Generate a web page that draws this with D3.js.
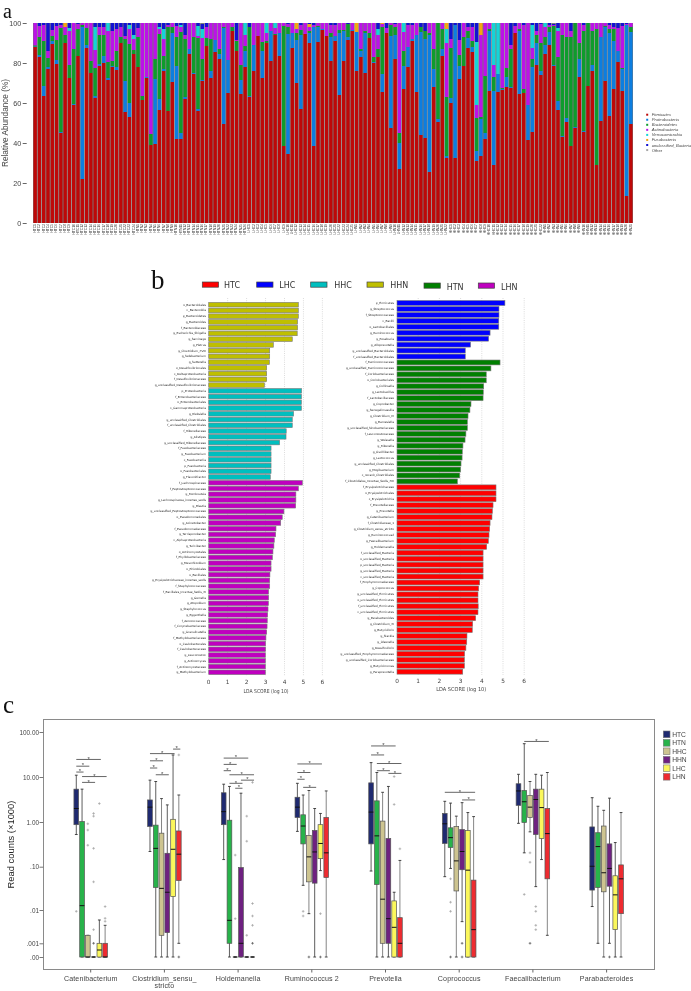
<!DOCTYPE html>
<html><head><meta charset="utf-8">
<script src="https://cdn.jsdelivr.net/npm/d3@7"></script>
<style>html,body{margin:0;padding:0;background:#fff}svg{display:block;filter:blur(.35px)}text{font-family:"Liberation Sans",Arial,sans-serif}</style>
</head><body><svg id="c" width="691" height="991" viewBox="0 0 691 991"></svg>
<script>
// ---------- panel a: relative abundance per sample ----------
const phylumNames=["Firmicutes","Proteobacteria","Bacteroidetes","Actinobacteria","Verrucomicrobia","Fusobacteria","unclassified_Bacteria","Other"];
const phylumColors=["#BE0808","#0C7EE0","#0E9C2C","#BC12E8","#14D4D8","#F5A412","#1212D2","#A8A8A8"];
const sampleGroups=[["HTC",24],["HTN",26],["LHC",25],["LHN",22],["HHC",22],["HHN",21]];
const firmicutes=[88,83,63.5,77,89.5,79.5,45,90,72.5,59,83.5,22,87.5,75,62.5,78.5,80,71.5,78,76.5,90,55.5,53,84.5,78,61.5,72.5,39,39.5,56.5,76,56,70.5,42,42,62,84.5,74.5,56,71,88.5,72.5,85.5,82,49.5,65,96,86,64.5,78,63,76,93.5,72.5,90,81,94,83.5,38.5,34.5,87.5,70,57,94.5,90,38.5,90.5,96.5,93.5,81,91,64,81,91.5,96,76,83,75,92.5,80,83,65.5,95,47.5,82,27,67,78,91,65.5,44,42.5,25.5,68,50.5,83.5,32.5,60,32.5,72,78.5,87.5,85.5,31,33.5,42,66,29,65.5,66.5,68,67.5,95,64.5,65,41.5,45.5,79,74,84.5,89,78.5,56.5,43,50.5,38.5,47.5,73,45.5,68.5,76,29,51,71,53.5,67,80.5,66,13.5,49.5];
const proteobacteria=[.3,1,5,1,1.5,2,.5,0,0,.5,0,76,1.5,0,1,1,3.5,1,.5,1.5,0,15.5,7,0,0,0,.5,0,32.5,5.5,1,0,24.5,36.5,3,1,2.5,.5,1,.5,0,3.5,6,2.5,48,16.5,0,0,7,8,.5,13,0,13.5,0,15,0,11.5,0,60,7.5,21.5,37,0,5,59.5,7.5,.5,0,12,2.5,31,15,1.5,.5,19.5,3,20,0,.5,0,9,0,46,12,13,11.5,10,1,28.5,51.5,49.5,68.5,9,1.5,3.5,1,2.5,66.5,6.5,0,5,2.5,5,18.5,3,30,37,9,.5,5,.5,0,31.5,0,17.5,32.5,11,2,4.5,6.5,.5,4.5,.5,2,0,.5,9,.5,0,3,0,42,27,41.5,24,5.5,11,85.5,46];
const bacteroidetes=[.5,9,22.5,4.5,2.5,10,52,4,6.5,27.5,13.5,1,8.5,6,14,14.5,10.5,8,2.5,8,3,21,29.5,2,15,2,0,5.5,10,32.5,6.5,42,3,14.5,50.5,29,0,18,35.5,10.5,4,16,0,2.5,.5,0,2,5,7.5,2.5,34.5,0,0,4.5,1,0,.5,0,60,3.5,0,3.5,2.5,0,1,0,.5,0,0,2,0,1.5,.5,6.5,0,0,1,1,2.5,2.5,4,23.5,0,5.5,4,5,7.5,0,0,0,2.5,4,1,10,48,10,29.5,25,0,5.5,14.5,3.5,3,16.5,1,28.5,1,7,0,.5,4.5,19,0,1,2,0,4,4,14,4,2.5,19.5,22,50.5,40.5,54.5,52,8,50,31.5,17,68,0,.5,2,6,0,.5,0,2.5];
const actinobacteria=[11.2,5.5,8,3.5,3,7,1.5,4,17,13,2.5,1,2.5,19,9,4,4,15.5,15,11,5,1.5,7.5,5.5,4.5,36.5,27,55.5,18,2.5,8.5,1,2,5.5,2.5,2,13,7,1,10.5,5.5,8,8.5,13,2,18.5,2,.5,21,5.5,0,11,6.5,9.5,4,4,3,5,1.5,1.5,5,2,2.5,5.5,2,1,1.5,3,6.5,4,5.5,3.5,3.5,0,3.5,0,13,4,5,17,7,1.5,2.5,1,1.5,55,9.5,11,7,6,0,0,5,13,0,3,27,4.5,0,7.5,7,2,7,6.5,41,26.5,3,6,0,32.5,22.5,2,3.5,3,32,41,5.5,2,9.5,5,1,.5,13,6,7,3,0,10,3,0,4,3,7,1.5,2,1,11.5,21,.5,2];
// the two rare phyla: [sample number, percent]; every other sample has none
const verrucomicrobiaSamples=[[9,1.5],[15,11.5],[18,4],[23,2],[24,2],[30,1],[31,5],[35,1],[39,5],[40,4.5],[50,6],[55,5],[57,2.5],[81,3],[87,4.5],[97,7],[104,31.5],[108,21],[109,25.5],[117,11.5],[120,2],[123,1.5]];
const fusobacteriaSamples=[[8,2],[62,3],[65,1.5],[76,4.5],[82,.5],[97,3],[105,6]];
const unclassifiedBacteria=[0,1.5,1,14,3.5,1.5,1,0,2.5,0,.5,0,0,0,2,2,2,0,4,3,2,6.5,1,6,2.5,0,0,0,0,2,3,1,0,1.5,1,6,0,0,1.5,2.5,2,0,0,0,0,0,0,8.5,0,0,2,0,0,0,0,0,0,0,0,.5,0,0,1,0,.5,1,0,0,0,1,1,0,0,.5,0,0,0,0,0,0,3,0,2.5,0,.5,0,0,1,1,0,2,4,0,0,0,0,0,8,1,8.5,0,2,2,9.5,0,0,0,0,0,0,0,11,1.5,0,1,0,1,4,.5,0,1,.5,2.5,0,0,4,0,0,1,0,0,0,0,0,1,2,2.5,1.5,.5,0];
const abundanceTicks=[0,20,40,60,80,100];

// ---------- panel b: LDA scores ----------
const groupNamesB=["HTC","LHC","HHC","HHN","HTN","LHN"];
const groupColorsB=["#FF0000","#0000FF","#00BFBF","#BFBF00","#008000","#BF00BF"];
const hhnTaxa=["o_Bacteroidales","c_Bacteroidia","p_Bacteroidetes","g_Bacteroides","f_Bacteroidaceae","g_Escherichia_Shigella","g_Sarcinage","g_Pietrus","g_Clostridium_XVIII","g_Selebacterium","g_Sutterella","o_Desulfovibrionales","c_Deltaproteobacteria","f_Desulfovibrionaceae","g_unclassified_Desulfovibrionaceae"];
const hhnScores=[4.73,4.73,4.73,4.69,4.69,4.67,4.41,3.41,3.22,3.22,3.2,3.06,3.06,3.06,2.94];
const hhcTaxa=["p_Proteobacteria","f_Enterobacteriaceae","o_Enterobacteriales","c_Gammaproteobacteria","g_Klebsiella","g_unclassified_Clostridiales","f_unclassified_Clostridiales","f_Rikenellaceae","g_Alistipes","g_unclassified_Rikenellaceae","f_Fusobacteriaceae","g_Fusobacterium","c_Fusobacteriia","p_Fusobacteria","o_Fusobacteriales","g_Flavonifractor"];
const hhcScores=[4.9,4.89,4.89,4.89,4.48,4.41,4.41,4.09,4.08,3.74,3.29,3.29,3.29,3.29,3.29,3.25];
const lhnTaxa=["f_Lachnospiraceae","f_Peptostreptococcaceae","g_Romboutsia","g_Lachnospiracea_incertae_sedis","g_Blautia","g_unclassified_Peptostreptococcaceae","o_Pseudomonadales","g_Acinetobacter","f_Pseudomonadaceae","g_Terrisporobacter","c_Alphaproteobacteria","g_Turicibacter","o_Actinomycetales","f_Phyllobacteriaceae","g_Mesorhizobium","o_Rhizobiales","o_Bacillales","g_Erysipelotrichaceae_incertae_sedis","f_Staphylococcaceae","f_Bacillales_Incertae_Sedis_XI","g_Gemella","g_Atopobium","g_Staphylococcus","g_Eggerthella","f_Aerococcaceae","f_Corynebacteriaceae","g_Granulicatella","f_Methylobacteriaceae","o_Caulobacterales","f_Caulobacteraceae","g_Leuconostoc","g_Actinomyces","f_Actinomycetaceae","g_Methylobacterium"];
const lhnScores=[4.94,4.73,4.6,4.6,4.59,3.97,3.88,3.8,3.55,3.53,3.46,3.44,3.39,3.36,3.29,3.29,3.23,3.22,3.22,3.16,3.16,3.15,3.13,3.11,3.09,3.08,3.06,3.02,3,3,2.99,2.99,2.99,2.99];
const lhcTaxa=["p_Firmicutes","g_Streptococcus","f_Streptococcaceae","c_Bacilli","o_Lactobacillales","g_Ruminococcus","g_Roseburia","g_Alloprevotella","g_unclassified_Bacteroidales","f_unclassified_Bacteroidales"];
const lhcScores=[5.09,4.81,4.81,4.8,4.8,4.39,4.32,3.47,3.22,3.22];
const htnTaxa=["f_Ruminococcaceae","g_unclassified_Ruminococcaceae","f_Coriobacteriaceae","o_Coriobacteriales","g_Collinsella","g_Lactobacillus","f_Lactobacillaceae","g_Coprobacter","g_Senegalimassilia","g_Clostridium_IV","g_Barnesiella","g_unclassified_Sinobacteriaceae","f_Leuconostocaceae","g_Weissella","g_Rikenella","g_Oscillibacter","g_Lactococcus","g_unclassified_Clostridiales","g_Mogibacterium","c_norank_Clostridiales","f_Clostridiales_Incertae_Sedis_XIII"];
const htnScores=[4.86,4.43,4.21,4.21,4.09,4.07,4.06,3.49,3.44,3.35,3.32,3.32,3.25,3.21,3.11,3.08,3.07,3.02,3,2.96,2.85];
const htcTaxa=["f_Erysipelotrichaceae","o_Erysipelotrichales","c_Erysipelotrichia","f_Prevotellaceae","g_Prevotella","g_Catenibacterium","f_Clostridiaceae_1","g_Clostridium_sensu_stricto","g_Ruminococcus2","g_Faecalibacterium","g_Holdemanella","f_unclassified_Bacteria","o_unclassified_Bacteria","p_unclassified_Bacteria","g_unclassified_Bacteria","c_unclassified_Bacteria","f_Porphyromonadaceae","g_Coprococcus","g_unclassified_Firmicutes","o_unclassified_Firmicutes","f_unclassified_Firmicutes","c_unclassified_Firmicutes","g_Parabacteroides","g_Clostridium_XI","g_Butyrivibrio","g_Slackia","g_Olsenella","g_Desulfovibrio","g_unclassified_Porphyromonadaceae","g_unclassified_Coriobacteriaceae","g_Butyricimonas","g_Paraprevotella"];
const htcScores=[4.67,4.67,4.67,4.53,4.5,4.48,4.39,4.37,4.34,4.31,4.23,4.06,4.06,4.06,4.06,4.06,3.9,3.85,3.82,3.82,3.83,3.82,3.71,3.57,3.55,3.3,3.29,3.25,3.19,3.18,3.18,3.1];
const ldaTicks=[0,1,2,3,4,5,6];

// ---------- panel c: read counts, in log10(read counts x1000); -4 marks the ".00" line ----------
const genera=["Catenibacterium","Clostridium_sensu_ stricto","Holdemanella","Ruminococcus 2","Prevotella","Coprococcus","Faecalibacterium","Parabacteroides"];
const boxGroups=["HTC","HTN","HHC","HHN","LHC","LHN"];
const boxColors=["#1F2A70","#27B34A","#CDC490","#6E2180","#FBF75C","#EE2B30"];
// each row, one per genus: whisker top, q3, median, q1, whisker bottom
const boxHTC=[[1.04,.73,.3,-.06,-.28],[.93,.49,.33,-.1,-.66],[.84,.65,.23,-.06,-.84],[.86,.55,.33,.1,-.21],[1.32,.87,.22,-.49,-1.1],[.46,.19,-.04,-.48,-1.23],[1.06,.85,.69,.37,-.03],[.54,-.11,-.99,-1.54,-1.92]];
const boxHTN=[[.73,.01,-1.9,-4,-4],[.9,-.07,-.59,-1.48,-4],[.79,.04,-2.31,-3,-4],[.6,.16,-.09,-.49,-1.43],[1.1,.47,-.31,-1.41,-4],[.42,-.13,-.35,-.57,-1.04],[1.74,.7,.45,-.01,-.69],[.35,-.24,-.55,-1.48,-3]];
const boxHHC=[[-2.76,-2.76,-4,-4,-4],[.52,-.25,-1.5,-2.76,-4],[-4,-4,-4,-4,-4],[.7,-.3,-.78,-1.35,-2.11],[.66,.02,-1.75,-3,-4],[.13,-.1,-.87,-1.56,-4],[.9,.59,.33,.1,-.22],[.26,-.09,-1.14,-1.58,-4]];
const boxHHN=[[-4,-4,-4,-4,-4],[.38,-.7,-1.59,-2.68,-4],[.64,-1.02,-3,-4,-4],[.3,-.19,-.67,-1.38,-4],[.79,-.37,-2.26,-3,-4],[.43,-.17,-.66,-1.07,-2.35],[1.06,.73,.5,-.28,-1.46],[.53,-.49,-1.04,-1.45,-3]];
const boxLHC=[[-2.3,-3,-3.49,-4,-4],[1.49,.06,-.61,-1.69,-4],[-4,-4,-4,-4,-4],[.19,-.06,-.48,-.82,-1.09],[-1.59,-1.79,-2.52,-4,-4],[.21,-.19,-1.08,-4,-4],[1.04,.73,.32,-.37,-.84],[-.46,-1.21,-1.65,-2.59,-4]];
const boxLHN=[[-2.46,-3,-4,-4,-4],[.6,-.2,-.72,-1.32,-3],[-4,-4,-4,-4,-4],[.69,.1,-.69,-1.25,-4],[-.86,-2.23,-3,-4,-4],[.12,-1.31,-2.59,-4,-4],[1.1,.3,-.26,-1.28,-2.76],[.21,-.96,-1.28,-2.11,-4]];
// [genus index, group index, value]
const outlierPoints=[[0,0,-2.04],[0,2,-.04],[0,2,-.18],[0,2,-.52],[0,3,.19],[0,3,.13],[0,3,-.59],[0,3,-1.35],[0,3,-2.59],[0,3,-3],[0,4,.41],[0,5,-1.92],[0,5,-2.25],[0,5,-2.34],[1,5,-4],[1,5,1.49],[2,2,-.74],[2,2,-2.26],[2,4,.13],[2,4,-.43],[2,4,-2.76],[2,5,.88],[2,5,-1.85],[2,5,-2.18],[2,5,-2.46],[2,5,-3],[3,1,-2.04],[3,1,-2.18],[3,2,-4],[3,4,-2.11],[3,4,-4],[4,4,1.01],[4,4,.39],[4,5,-.6],[5,1,-1.28],[5,1,-1.82],[5,1,-2.04],[5,1,-4],[5,3,-3],[5,3,-4],[6,1,-1.64],[6,2,-.69],[6,2,-.9],[6,2,-3],[6,3,-1.92],[6,3,-2.04],[6,3,-2.46],[6,3,-2.59],[7,3,-4]];
// [genus index, from group, to group, level]
const signifBars=[[0,0,4,1.39],[0,0,2,1.24],[0,0,1,1.11],[0,1,3,.88],[0,1,5,1.01],[1,0,4,1.52],[1,0,2,1.36],[1,0,1,1.2],[1,4,5,1.62],[1,1,3,1.05],[2,0,4,1.42],[2,0,2,1.28],[2,0,1,1.14],[2,1,5,1.05],[2,1,3,.86],[2,2,3,.75],[2,3,5,.93],[3,0,4,1.29],[3,0,2,1.1],[3,0,1,.95],[3,1,3,.77],[4,0,4,1.69],[4,0,2,1.49],[4,1,5,1.3],[4,1,3,1.14],[4,3,5,1.08],[5,0,5,.66],[5,3,5,.49],[6,1,5,1.79]];
const readTickValues=[-4,-3,-2,-1,0,1,2];
const readTickLabels=[".00",".001",".01",".10","1.00","10.00","100.00"];

const lens=[firmicutes,proteobacteria,bacteroidetes,actinobacteria,unclassifiedBacteria].map(a=>a.length);
if(lens.some(l=>l!==140)) throw new Error("LENGTHS "+lens.join(","));

const svg=d3.select("#c");
svg.append("rect").attr("width",691).attr("height",991).attr("fill","#fff");
const serif='"Liberation Serif","Times New Roman",serif', dejavu='"DejaVu Sans",sans-serif';
[["a",3,17.8,20],["b",151,289,27],["c",3,713,25]].forEach(d=>svg.append("text").attr("x",d[1]).attr("y",d[2]).attr("font-size",d[3]).style("font-family",serif).attr("fill","#111").text(d[0]));

// ===== panel a
const pa=svg.append("g");
const sampleIds=sampleGroups.flatMap(([g,n])=>d3.range(1,n+1).map(i=>g+i));
const vMap=new Map(verrucomicrobiaSamples), fMap=new Map(fusobacteriaSamples);
const rowsA=sampleIds.map((id,i)=>({id,
 Firmicutes:firmicutes[i],Proteobacteria:proteobacteria[i],Bacteroidetes:bacteroidetes[i],Actinobacteria:actinobacteria[i],
 Verrucomicrobia:vMap.get(i+1)||0,Fusobacteria:fMap.get(i+1)||0,unclassified_Bacteria:unclassifiedBacteria[i]}));
const xA=d3.scaleBand().domain(sampleIds).range([33,633]);
const yA=d3.scaleLinear().domain([0,100]).range([223,23]);
const stackA=d3.stack().keys(phylumNames.slice(0,7))(rowsA);
pa.selectAll("rect.back").data(rowsA).join("rect").attr("class","back").attr("x",d=>xA(d.id)).attr("width",xA.bandwidth()).attr("y",yA(100)).attr("height",yA(0)-yA(100)).attr("fill","#7a7a7a");
pa.selectAll("g.s").data(stackA).join("g").attr("class","s").attr("fill",(d,i)=>phylumColors[i])
 .selectAll("rect").data(d=>d.filter(p=>p[1]-p[0]>0)).join("rect")
 .attr("x",d=>xA(d.data.id)+.45).attr("width",xA.bandwidth()-.9)
 .attr("y",d=>yA(d[1])).attr("height",d=>yA(d[0])-yA(d[1]));
pa.append("g").attr("transform","translate(26.7,0)").call(d3.axisLeft(yA).tickValues(abundanceTicks).tickSize(4).tickPadding(1.5))
 .call(g=>g.select(".domain").remove()).call(g=>g.selectAll("line").attr("stroke","#666"))
 .call(g=>g.selectAll("text").attr("font-size",7.2).attr("fill","#444").style("font-family",'"Liberation Sans"'));
pa.append("text").attr("transform","translate(8,123) rotate(-90)").attr("text-anchor","middle").attr("font-size",8.2).attr("fill","#444").text("Relative Abundance (%)");
pa.append("g").attr("transform","translate(0,224)").call(d3.axisBottom(xA).tickSize(0).tickPadding(0))
 .call(g=>g.select(".domain").remove())
 .call(g=>g.selectAll("text").attr("font-size",3.4).attr("fill","#444").attr("text-anchor","end").attr("dy",0).attr("y",0).attr("dominant-baseline","middle").attr("transform","rotate(-90)").style("font-family",'"Liberation Sans"'));
phylumNames.forEach((n,i)=>{
 const y=114.7+i*5.05;
 pa.append("rect").attr("x",646.2).attr("y",y-1).attr("width",2).attr("height",2).attr("fill",phylumColors[i]);
 pa.append("text").attr("x",651.7).attr("y",y+1.5).attr("font-size",4.2).attr("fill","#444").attr("font-style",i<7?"italic":"normal").text(n);
});

// ===== panel b
const legendB=[[202.3,224,282,285.6],[256.7,279.3,282,285.6],[310.7,334.3,282,285.6],[367,390.3,282,285.6],[424,446.7,283,287],[478.3,501,283,287]];
groupNamesB.forEach((n,i)=>{
 const l=legendB[i];
 svg.append("rect").attr("x",l[0]).attr("y",l[2]).attr("width",16.3).attr("height",5.2).attr("fill",groupColorsB[i]).attr("stroke","#444").attr("stroke-width",.7);
 svg.append("text").attr("x",l[1]).attr("y",l[3]+2.8).attr("font-size",8).attr("fill","#333").style("font-family",dejavu).text(n);
});
function lda(cols,x0,unit,yFirst,yLast,labelX,axisY,titleY,barH,gridTop,gridBot,titleW){
 const g=svg.append("g");
 const rows=cols.flatMap(c=>c.taxa.map((t,i)=>({taxon:t,score:c.scores[i],color:groupColorsB[c.k]})));
 const n=rows.length, step=(yLast-yFirst)/(n-1);
 const y=d3.scaleBand().domain(d3.range(n)).range([yFirst-step/2,yLast+step/2]);
 const x=d3.scaleLinear().domain([0,6]).range([x0,x0+6*unit]);
 g.selectAll("line.grid").data(ldaTicks.slice(1)).join("line").attr("x1",x).attr("x2",x).attr("y1",gridTop).attr("y2",gridBot).attr("stroke","#c4c4c4").attr("stroke-width",.6).attr("stroke-dasharray","1 1.2");
 g.selectAll("rect").data(rows).join("rect").attr("x",x0).attr("y",(d,i)=>y(i)+(step-barH)/2).attr("height",barH).attr("width",d=>x(d.score)-x0).attr("fill",d=>d.color).attr("stroke","#777").attr("stroke-width",.6);
 g.selectAll("text.t").data(rows).join("text").attr("class","t").attr("x",labelX).attr("y",(d,i)=>y(i)+step/2+1).attr("text-anchor","end").attr("font-size",2.9).attr("fill","#222").style("font-family",dejavu).text(d=>d.taxon);
 g.selectAll("text.k").data(ldaTicks).join("text").attr("class","k").attr("x",x).attr("y",axisY+2.2).attr("text-anchor","middle").attr("font-size",5.8).attr("fill","#444").style("font-family",dejavu).text(d=>d);
 g.append("text").attr("x",x0+unit*3.03).attr("y",titleY+2).attr("text-anchor","middle").attr("font-size",5.4).attr("fill","#444").attr("textLength",titleW).attr("lengthAdjust","spacingAndGlyphs").style("font-family",dejavu).text("LDA SCORE (log 10)");
}
lda([{taxa:hhnTaxa,scores:hhnScores,k:3},{taxa:hhcTaxa,scores:hhcScores,k:2},{taxa:lhnTaxa,scores:lhnScores,k:5}],208.7,18.95,304.7,672.3,206,682,690.5,4.6,298,676,45);
lda([{taxa:lhcTaxa,scores:lhcScores,k:1},{taxa:htnTaxa,scores:htnScores,k:4},{taxa:htcTaxa,scores:htcScores,k:0}],397,21.2,303,671.7,394,680.7,688.5,4.9,298,675,50);

// ===== panel c
const pc=svg.append("g");
const yC=d3.scaleLinear().domain(readTickValues).range([957,943.3,910,866.7,822,777,732]);
const xC=d3.scaleBand().domain(genera).range([53.85,643.45]);
const xS=d3.scaleBand().domain(boxGroups).range([-17.3,17.3]);
pc.append("rect").attr("x",43.5).attr("y",719.5).attr("width",611).attr("height",250).attr("fill","#fff").attr("stroke","#8a8a8a").attr("stroke-width",1);
const axL=pc.append("g").attr("transform","translate(43.5,0)").call(d3.axisLeft(yC).tickValues(readTickValues).tickFormat((d,i)=>readTickLabels[i]).tickSize(4).tickPadding(.5));
axL.select(".domain").remove();axL.selectAll("line").attr("stroke","#777");axL.selectAll("text").attr("font-size",6.4).attr("fill","#444").style("font-family",'"Liberation Sans"');
pc.append("text").attr("transform","translate(14,844.5) rotate(-90)").attr("text-anchor","middle").attr("font-size",9.4).attr("fill","#222").text("Read counts (×1000)");
const axB=pc.append("g").attr("transform","translate(0,969.5)").call(d3.axisBottom(xC).tickSize(3).tickFormat(""));
axB.select(".domain").remove();axB.selectAll("line").attr("stroke","#666");
genera.forEach(g=>{
 const parts=g.includes("_ ")?g.split(" "):[g];
 parts.forEach((p,i)=>pc.append("text").attr("x",xC(g)+xC.bandwidth()/2).attr("y",981+i*7.3).attr("text-anchor","middle").attr("font-size",7.1).attr("letter-spacing",.12).attr("fill","#444").text(p));
});
const boxSeries=[boxHTC,boxHTN,boxHHC,boxHHN,boxLHC,boxLHN];
const bw=4.7, capW=2.8;
genera.forEach((gName,gi)=>{
 const cx=xC(gName)+xC.bandwidth()/2;
 const G=pc.append("g").attr("transform",`translate(${cx},0)`);
 boxGroups.forEach((b,si)=>{
  const [wh,q3,med,q1,wl]=boxSeries[si][gi];
  const xc=xS(b)+xS.bandwidth()/2;
  const stemC=si%3===2?"#777":"#4c4c4c";
  G.append("line").attr("x1",xc).attr("x2",xc).attr("y1",yC(wh)).attr("y2",yC(wl)).attr("stroke",stemC).attr("stroke-width",.9);
  [wh,wl].forEach(v=>G.append("line").attr("x1",xc-capW/2).attr("x2",xc+capW/2).attr("y1",yC(v)).attr("y2",yC(v)).attr("stroke","#333").attr("stroke-width",.9));
  if(q1!==q3) G.append("rect").attr("x",xc-bw/2).attr("width",bw).attr("y",yC(q3)).attr("height",yC(q1)-yC(q3)).attr("fill",boxColors[si]).attr("stroke","#555").attr("stroke-width",.7);
  G.append("line").attr("x1",xc-bw/2).attr("x2",xc+bw/2).attr("y1",yC(med)).attr("y2",yC(med)).attr("stroke","#111").attr("stroke-width",1);
 });
});
pc.selectAll("path.o").data(outlierPoints).join("path").attr("d","M-1.3,0H1.3M0,-1.3V1.3")
 .attr("transform",d=>`translate(${xC(genera[d[0]])+xC.bandwidth()/2+xS(boxGroups[d[1]])+xS.bandwidth()/2},${yC(d[2])})`)
 .attr("stroke",d=>d[2]<=-3?"#555":"#a0a0a0").attr("stroke-width",.7).attr("fill","none");
signifBars.forEach(d=>{
 const cx=xC(genera[d[0]])+xC.bandwidth()/2;
 const x1=cx+xS(boxGroups[d[1]])+xS.bandwidth()/2, x2=cx+xS(boxGroups[d[2]])+xS.bandwidth()/2+1.5;
 pc.append("line").attr("x1",x1).attr("x2",x2).attr("y1",yC(d[3])).attr("y2",yC(d[3])).attr("stroke","#555").attr("stroke-width",.9);
 pc.append("text").attr("x",(x1+x2)/2).attr("y",yC(d[3])+1.2).attr("text-anchor","middle").attr("font-size",6).attr("fill","#444").text("*");
});
boxGroups.forEach((b,i)=>{
 const y=734.3+i*8.48;
 pc.append("rect").attr("x",663.3).attr("y",y-3.3).attr("width",6.7).attr("height",6.7).attr("fill",boxColors[i]).attr("stroke","#777").attr("stroke-width",.6);
 pc.append("text").attr("x",672.2).attr("y",y+2.4).attr("font-size",6.7).attr("fill","#444").text(b);
});
</script></body></html>
